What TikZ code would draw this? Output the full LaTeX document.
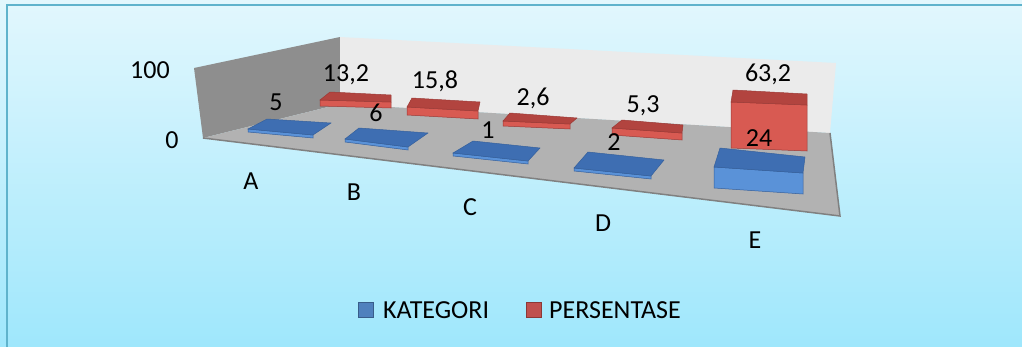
\documentclass[tikz,border=0pt]{standalone}
\usepackage{fontspec}
\setmainfont{Carlito}
\definecolor{bgtop}{HTML}{E2F7FD}
\definecolor{bgbot}{HTML}{9FE7FC}
\definecolor{framecol}{HTML}{5FB3CC}
\definecolor{leftwallcol}{HTML}{8E8E8E}
\definecolor{backwallcol}{HTML}{EBEBEB}
\definecolor{floorcol}{HTML}{B2B2B2}
\definecolor{flooredge}{HTML}{808080}
\definecolor{kattopcol}{HTML}{3E6EB2}
\definecolor{katfrontcol}{HTML}{5A92D8}
\definecolor{katline}{HTML}{35609C}
\definecolor{pertopcol}{HTML}{B2443F}
\definecolor{perfrontcol}{HTML}{D85A52}
\definecolor{perline}{HTML}{9C3A36}
\definecolor{katkey}{HTML}{4F81BD}
\definecolor{katkeyline}{HTML}{385D8A}
\definecolor{perkey}{HTML}{C0504D}
\definecolor{perkeyline}{HTML}{8C3836}

\tikzset{
  lbl/.style={font=\fontsize{26}{31}\selectfont, inner sep=0pt, text height=17pt, text depth=0pt},
  kattop/.style={fill=kattopcol, draw=katline, line width=0.5pt},
  katfront/.style={fill=katfrontcol, draw=katline, line width=0.5pt},
  pertop/.style={fill=pertopcol, draw=perline, line width=0.5pt},
  perfront/.style={fill=perfrontcol, draw=perline, line width=0.5pt},
  keybox/.style={minimum size=15pt, inner sep=0pt, line width=1pt}
}

\begin{document}
\begin{tikzpicture}[x=1pt,y=-1pt]
    \useasboundingbox (0,0) rectangle (1022,346);
    \clip (0,0) rectangle (1022,346);
    \shade[top color=bgtop, bottom color=bgbot] (0,0) rectangle (1022,346);
    \draw[framecol, line width=2pt] (7,5) rectangle (1040,360);

    \coordinate (lwtop) at (194,68);
    \coordinate (lwbot) at (203,138);
    \coordinate (cornertop) at (340,37);
    \coordinate (cornerbot) at (340,104);
    \coordinate (bwtop) at (836,63);
    \coordinate (bwbot) at (830,133);
    \coordinate (floorfr) at (840,216);

    \fill[leftwallcol] (lwtop) -- (cornertop) -- (cornerbot) -- (lwbot) -- cycle;
    \fill[backwallcol] (cornertop) -- (bwtop) -- (bwbot) -- (cornerbot) -- cycle;
    \fill[floorcol] (lwbot) -- (cornerbot) -- (bwbot) -- (floorfr) -- cycle;
    \draw[flooredge, line width=1.5pt] (lwbot) -- (floorfr) -- (bwbot);

    \foreach \ax/\ay/\bx/\by/\cx/\cy/\dx/\dy/\h in {
        330/92/391/95/391/102/320/100/6,
        412/98/480/102/478/111/407/107/8,
        510/113/577/118/570/124/503/121/5,
        622/120/683/125/682/133/612/128/7,
        733/90/807/94/807/105/731/102/46}{
        \filldraw[perfront] (\dx,\dy) -- (\cx,\cy) -- (\cx,\cy+\h) -- (\dx,\dy+\h) -- cycle;
        \filldraw[pertop] (\ax,\ay) -- (\bx,\by) -- (\cx,\cy) -- (\dx,\dy) -- cycle;
    }

    \foreach \ax/\ay/\bx/\by/\cx/\cy/\dx/\dy/\h in {
        267/119/331/123/313/135/248/129/3,
        359/128/428/133/408/147/345/139/3,
        473/141/540/148/528/161/453/153/3,
        588/152/664/160/651/176/574/168/3,
        720/148/805/157/803/173/714/167/21}{
        \filldraw[katfront] (\dx,\dy) -- (\cx,\cy) -- (\cx,\cy+\h) -- (\dx,\dy+\h) -- cycle;
        \filldraw[kattop] (\ax,\ay) -- (\bx,\by) -- (\cx,\cy) -- (\dx,\dy) -- cycle;
    }

    \node[lbl] (ymax) at (150,70) {100};
    \node[lbl] (ymin) at (172,140) {0};

    \node[lbl] (perA) at (346,73) {13,2};
    \node[lbl] (perB) at (435,80) {15,8};
    \node[lbl] (perC) at (533,97) {2,6};
    \node[lbl] (perD) at (643,104) {5,3};
    \node[lbl] (perE) at (768,73) {63,2};

    \node[lbl] (katA) at (276,102) {5};
    \node[lbl] (katB) at (376,113) {6};
    \node[lbl] (katC) at (488,130) {1};
    \node[lbl] (katD) at (614,142) {2};
    \node[lbl] (katE) at (759,138) {24};

    \node[lbl] (catA) at (251,181) {A};
    \node[lbl] (catB) at (354,192) {B};
    \node[lbl] (catC) at (470,207) {C};
    \node[lbl] (catD) at (603,223) {D};
    \node[lbl] (catE) at (755,240) {E};

    \node[keybox, fill=katkey, draw=katkeyline] (keyKat) at (366,310) {};
    \node[lbl, anchor=west] (txtKat) at (383,310) {KATEGORI};
    \node[keybox, fill=perkey, draw=perkeyline] (keyPer) at (534,310) {};
    \node[lbl, anchor=west] (txtPer) at (549,310) {PERSENTASE};
\end{tikzpicture}
\end{document}
